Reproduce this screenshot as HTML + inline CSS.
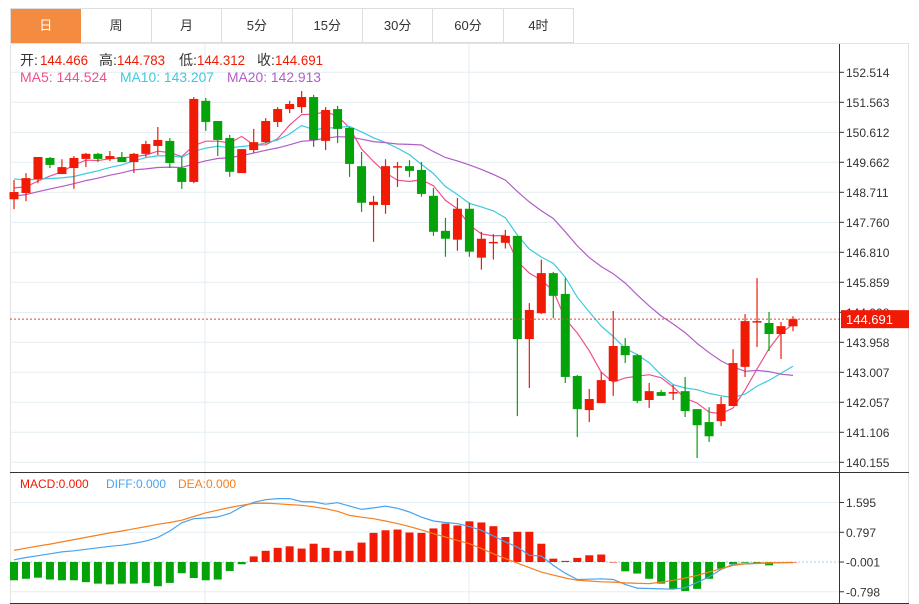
<!DOCTYPE html>
<html><head><meta charset="utf-8"><style>
body{margin:0;background:#fff;font-family:"Liberation Sans","Noto Sans CJK SC",sans-serif;}
#wrap{position:relative;width:919px;height:604px;overflow:hidden;}
#tabs{position:absolute;left:10px;top:8px;height:35px;display:flex;border-top:1px solid #ddd;border-left:1px solid #ddd;box-sizing:border-box;}
.tab{height:34px;width:70.4px;border-right:1px solid #ddd;border-bottom:1px solid #ddd;box-sizing:border-box;text-align:center;line-height:33px;font-size:13px;color:#333;background:#fff;}
.tab.on{background:#f38b40;color:#fff;border-color:#f38b40;}
</style></head><body>
<div id="wrap">
<div id="tabs">
<div class="tab on">日</div>
<div class="tab">周</div>
<div class="tab">月</div>
<div class="tab">5分</div>
<div class="tab">15分</div>
<div class="tab">30分</div>
<div class="tab">60分</div>
<div class="tab">4时</div>
</div>
<svg id="svg" width="919" height="604" style="position:absolute;left:0;top:0"></svg>
</div>
<script>
const opens=[148.49,148.69,149.13,149.80,149.29,149.48,149.77,149.93,149.77,149.83,149.67,149.93,150.18,150.34,149.48,149.04,151.61,150.97,150.43,149.32,150.05,150.30,150.94,151.35,151.41,151.73,150.34,151.35,150.75,149.54,148.31,148.31,149.51,149.54,149.42,148.60,147.49,147.21,148.19,146.64,147.11,147.11,147.33,144.06,144.88,146.15,145.49,142.89,141.81,142.03,142.73,143.84,143.55,142.13,142.38,142.35,142.41,141.84,141.43,141.46,141.94,143.18,144.60,144.57,144.22,144.466];
const highs=[149.10,149.32,149.83,149.83,149.76,149.86,149.96,149.96,150.02,149.99,149.96,150.34,150.78,150.43,149.83,151.73,151.70,150.97,150.53,150.08,150.72,151.06,151.41,151.61,151.92,151.80,151.41,151.45,150.78,149.99,148.60,149.76,149.67,149.73,149.67,148.85,147.90,148.53,148.38,147.46,147.39,147.52,147.33,145.20,146.58,146.19,145.99,142.92,142.48,143.02,144.95,144.09,143.59,142.67,142.45,142.61,142.86,141.84,141.90,142.23,143.74,144.85,145.99,144.92,144.60,144.783];
const lows=[148.18,148.43,149.00,149.48,149.29,148.82,149.51,149.67,149.70,149.67,149.32,149.83,149.89,149.48,148.82,149.00,150.66,149.86,149.20,149.32,149.96,150.27,150.78,151.22,151.22,150.15,150.05,150.27,149.20,148.09,147.14,148.03,148.88,149.20,148.57,147.33,146.67,146.86,146.67,146.26,146.58,146.93,141.62,142.51,144.85,144.72,142.67,140.96,141.43,142.03,142.26,143.30,142.03,141.88,142.26,142.13,141.59,140.29,140.80,141.30,141.94,142.86,143.81,143.68,143.43,144.312];
const closes=[148.72,149.16,149.83,149.58,149.51,149.80,149.93,149.77,149.86,149.67,149.93,150.24,150.37,149.64,149.04,151.67,150.94,150.37,149.36,150.08,150.30,150.97,151.35,151.51,151.73,150.37,151.32,150.72,149.61,148.38,148.41,149.54,149.54,149.39,148.66,147.46,147.24,148.19,146.83,147.24,147.14,147.33,144.06,144.98,146.15,145.43,142.86,141.84,142.16,142.76,143.84,143.55,142.10,142.41,142.26,142.38,141.78,141.33,140.98,142.00,143.30,144.63,144.63,144.22,144.47,144.691];
const priorCloses=[148.2,148.0,147.8,147.9,148.1,148.0,148.2,148.0,148.1,148.1,149.6,149.5,149.4,149.3,149.35,149.0,148.9,148.8,148.83];
const priceTicks=["152.514","151.563","150.612","149.662","148.711","147.760","146.810","145.859","144.908","143.958","143.007","142.057","141.106","140.155"];
const macdHist=[-0.49,-0.45,-0.42,-0.47,-0.49,-0.49,-0.54,-0.58,-0.60,-0.58,-0.58,-0.56,-0.65,-0.56,-0.30,-0.43,-0.49,-0.47,-0.24,-0.06,0.15,0.30,0.38,0.42,0.36,0.49,0.38,0.30,0.30,0.52,0.78,0.85,0.87,0.79,0.78,0.90,1.03,0.98,1.09,1.06,0.96,0.67,0.81,0.81,0.49,0.09,0.03,0.11,0.18,0.20,0.00,-0.25,-0.31,-0.45,-0.58,-0.72,-0.78,-0.72,-0.45,-0.18,-0.06,-0.02,-0.03,-0.09,-0.01,0.00];
const diffVals=[0.06,0.12,0.17,0.22,0.27,0.30,0.34,0.38,0.42,0.45,0.50,0.56,0.66,0.83,1.05,1.16,1.18,1.21,1.30,1.48,1.60,1.67,1.70,1.70,1.62,1.61,1.55,1.59,1.50,1.41,1.45,1.50,1.44,1.34,1.20,1.10,1.06,1.03,0.95,0.85,0.70,0.54,0.40,0.18,0.16,-0.09,-0.30,-0.47,-0.46,-0.45,-0.47,-0.60,-0.70,-0.71,-0.72,-0.73,-0.69,-0.55,-0.40,-0.20,-0.06,-0.05,-0.04,-0.03,-0.02,-0.02];
const deaVals=[0.31,0.37,0.43,0.48,0.54,0.60,0.66,0.72,0.78,0.83,0.89,0.95,1.01,1.06,1.12,1.22,1.32,1.39,1.46,1.52,1.57,1.58,1.56,1.54,1.52,1.48,1.43,1.36,1.25,1.20,1.16,1.10,1.03,0.95,0.86,0.76,0.67,0.58,0.49,0.36,0.22,0.09,-0.03,-0.15,-0.27,-0.35,-0.43,-0.49,-0.51,-0.53,-0.54,-0.56,-0.57,-0.58,-0.54,-0.49,-0.43,-0.36,-0.27,-0.18,-0.09,-0.05,-0.03,-0.02,-0.02,-0.01];
const macdTicks=[1.595,0.797,-0.001,-0.798];

const svg=document.getElementById('svg');
const NS='http://www.w3.org/2000/svg';
function mk(t,a,p){const e=document.createElementNS(NS,t);for(const k in a)e.setAttribute(k,a[k]);(p||svg).appendChild(e);return e;}
const AX=839, RIGHT=909, LEFT=10;
const pTop=152.514,pBot=140.155,yTop=72.3,yBot=462.3;
function py(p){return yTop+(pTop-p)*(yBot-yTop)/(pTop-pBot);}
const n=closes.length;
function px(i){return 14+i*(793-14)/(n-1);}
const mZero=562,mScale=37.3;
function my(v){return mZero-v*mScale;}
const RED='#f01a05',GREEN='#05a30a';

let f=mk('rect',{x:LEFT+0.5,y:43.5,width:RIGHT-LEFT-1,height:560,fill:'none',stroke:'#e2e2e2'});

priceTicks.forEach((t)=>{const y=py(parseFloat(t));
 let g=mk('line',{x1:LEFT,x2:AX,y1:y,y2:y,stroke:'#e3edf3'});
 mk('line',{x1:AX,x2:AX+5,y1:y,y2:y,stroke:'#333'});
 let tx=mk('text',{x:846,y:y+4.5,'font-size':12,fill:'#333'});tx.textContent=t;
});
[205,469].forEach(x=>{let g=mk('line',{x1:x,x2:x,y1:44,y2:604,stroke:'#e3edf3'});});
macdTicks.forEach(v=>{const y=my(v);
 if(v!==-0.001){let g=mk('line',{x1:LEFT,x2:AX,y1:y,y2:y,stroke:'#e3edf3'});}
 mk('line',{x1:AX,x2:AX+5,y1:y,y2:y,stroke:'#333'});
 let tx=mk('text',{x:846,y:y+4.5,'font-size':12,fill:'#333'});tx.textContent=v.toFixed(3);
});
mk('line',{x1:LEFT,x2:AX,y1:my(0),y2:my(0),stroke:'#9fd3e8','stroke-dasharray':'2,2'});
let a1=mk('line',{x1:AX+0.5,x2:AX+0.5,y1:44,y2:604,stroke:'#333'});
let a2=mk('line',{x1:LEFT,x2:RIGHT,y1:472.5,y2:472.5,stroke:'#333'});
mk('line',{x1:LEFT,x2:RIGHT,y1:603.5,y2:603.5,stroke:'#333'});

const all=priorCloses.concat(closes);
function ma(k){const r=[];for(let i=0;i<n;i++){const j=i+priorCloses.length;let s=0,c=0;for(let q=Math.max(0,j-k+1);q<=j;q++){s+=all[q];c++;}r.push(s/c);}return r;}
[[5,'#f0508a','ma5-line'],[10,'#3ec9de','ma10-line'],[20,'#b25cc8','ma20-line']].forEach(([k,c,name])=>{
 const v=ma(k);let d=v.map((p,i)=>(i?'L':'M')+px(i).toFixed(1)+','+py(p).toFixed(1)).join('');
 let l=mk('path',{d:d,fill:'none',stroke:c,'stroke-width':1.2});
});
for(let i=0;i<n;i++){const up=closes[i]>=opens[i];const c=up?RED:GREEN;const x=px(i);
 const g=mk('g',{});
 mk('line',{x1:x,x2:x,y1:py(highs[i]),y2:py(lows[i]),stroke:c,'stroke-width':1.2},g);
 const t=py(Math.max(opens[i],closes[i])),b=py(Math.min(opens[i],closes[i]));
 mk('rect',{x:x-4.5,y:t,width:9,height:Math.max(1.5,b-t),fill:c},g);
}
const ly=py(closes[n-1]);
let pl=mk('line',{x1:LEFT,x2:AX,y1:ly,y2:ly,stroke:'#f04030','stroke-dasharray':'2,2'});
let pb=mk('rect',{x:AX+2,y:ly-9,width:RIGHT-AX-2,height:18,fill:RED});
let pt=mk('text',{x:846,y:ly+5,'font-size':13,fill:'#fff'});pt.textContent=closes[n-1].toFixed(3);

for(let i=0;i<n;i++){const v=macdHist[i];const x=px(i);const y0=my(0),y1=my(v);
 let r=mk('rect',{x:x-4,y:Math.min(y0,y1),width:8,height:Math.max(0.5,Math.abs(y1-y0)),fill:v>=0?RED:GREEN});
 }
[[diffVals,'#4aa3ee','diff-line'],[deaVals,'#f57f22','dea-line']].forEach(([v,c,name])=>{
 let d=v.map((p,i)=>(i?'L':'M')+px(i).toFixed(1)+','+my(p).toFixed(1)).join('');
 let l=mk('path',{d:d,fill:'none',stroke:c,'stroke-width':1.2});
});

function txt(x,y,s,c,name,size,w){let a={x:x,y:y,'font-size':size||13,fill:c};if(w){a.textLength=w;a.lengthAdjust='spacingAndGlyphs';}let t=mk('text',a);t.textContent=s;return t;}
const l1=[['开:','#333',20],['144.466',RED,40],['高:','#333',99],['144.783',RED,117],['低:','#333',179],['144.312',RED,197],['收:','#333',257],['144.691',RED,275]];
l1.forEach(([s,c,x])=>txt(x,65,s,c,'ohlc-legend',14,s.length>3?48:null));
txt(20,82,'MA5: 144.524','#f0508a','ma5-legend',14,87);
txt(120,82,'MA10: 143.207','#3ec9de','ma10-legend',14,94);
txt(227,82,'MA20: 142.913','#b25cc8','ma20-legend',14,94);
txt(20,488,'MACD:0.000',RED,'macd-legend',12);
txt(106,488,'DIFF:0.000','#4aa3ee','diff-legend',12);
txt(178,488,'DEA:0.000','#f57f22','dea-legend',12);
</script>
</body></html>
